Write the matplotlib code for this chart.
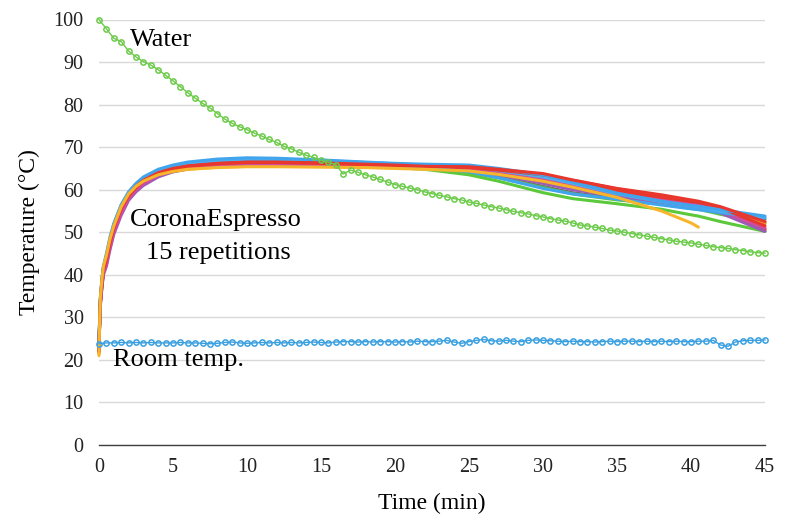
#!/usr/bin/env python3
"""
CoronaEspresso: temperatura de 15 repetições, água e ambiente
"""

import numpy as np
import matplotlib
matplotlib.use("Agg")
import matplotlib.pyplot as plt

nan = np.nan

# tempo (min) das curvas do CoronaEspresso
tempo_espresso = [0, 0.05, 0.1, 0.2, 0.3, 0.5, 0.75, 1, 1.5, 2, 2.5, 3, 4, 5, 6, 8,
                  10, 12, 15, 18, 20, 22,
                  25, 27, 30, 32, 35, 38, 40, 40.5, 42, 45]

# (cor, valores) na ordem em que são desenhadas
rep_cinza = [22, 30, 34, 38, 41, 43.5, 47.5, 51, 55.5, 58.7, 60.7, 62.2, 64, 65, 65.6, 66,
             66.2, 66.2, 66, 65.7, 65.4, 65,
             64.2, 63, 60.8, 59.3, 58, 56.8, 56, 55.8, 55, 53]
rep_verde1 = [22, 30, 34, 38, 41, 43.5, 47.5, 51, 55.5, 58.5, 60.5, 62, 63.8, 64.8, 65.4, 65.9,
              66.1, 66, 65.8, 65.5, 65.2, 64.8,
              63.5, 62, 59.3, 57.9, 56.7, 55.4, 54.1, 53.8, 52.5, 50.2]
rep_verde2 = [22.5, 30.5, 34.5, 38.5, 41.5, 44, 48, 51.5, 55.8, 58.8, 60.8, 62.3, 64, 65, 65.6, 66.1,
              66.3, 66.2, 66, 65.7, 65.4, 65,
              64, 62.8, 60.5, 59, 57.6, 56.6, 55.6, 55.4, 54.2, 52.2]
rep_roxo = [22, 29, 33, 37, 40, 42, 46, 49.5, 54, 57.5, 59.5, 61, 63, 64.2, 64.9, 65.5,
            65.8, 65.8, 65.7, 65.5, 65.3, 65,
            64.5, 63.5, 61.5, 60, 58.5, 57, 56, 55.8, 54.5, 50.2]
rep_magenta = [22.5, 29.5, 33.5, 37.5, 40.5, 42.5, 46.5, 50, 54.5, 58, 60, 61.5, 63.4, 64.5, 65.2, 65.8,
               66, 66, 65.9, 65.7, 65.5, 65.2,
               64.9, 64, 62.4, 61, 59, 57.5, 56.5, 56.3, 55, 51]
rep_azul2 = [22.5, 30.5, 34.5, 38.5, 41.5, 44, 48, 51.5, 56, 59, 61, 62.5, 64.3, 65.3, 66, 66.7,
             67, 67, 66.6, 66.1, 65.8, 65.3,
             64.2, 62.8, 60.3, 59, 57.8, 56.4, 55.5, 55.3, 54.6, 53.3]
rep_amarelo1 = [21, 30, 35, 39, 42, 44.5, 48.5, 51.5, 56, 59, 60.8, 62, 63.5, 64.3, 64.8, 65.2,
                65.4, 65.4, 65.3, 65.2, 65, 64.8,
                64.4, 63.6, 62, 60.6, 58.2, 55, 52.2, 51.2, nan, nan]
rep_amarelo2 = [21.5, 29.5, 34, 38.5, 41.5, 44, 48, 51, 55.5, 58.5, 60.5, 61.8, 63.3, 64.2, 64.8, 65.3,
                65.5, 65.6, 65.5, 65.3, 65.1, 64.9,
                64.6, 63.9, 62.4, 61, 59, 57.4, 56.5, 56.3, 55, 52.4]
rep_laranja = [21.5, 30, 34.5, 38.5, 41.5, 44, 48, 51.2, 55.6, 58.6, 60.6, 62, 63.6, 64.5, 65.1, 65.6,
               65.8, 65.8, 65.7, 65.5, 65.3, 65,
               64.9, 64.1, 62.7, 61.3, 59.3, 58, 57, 56.8, 55.5, 52]
rep_azulclaro = [23, 31, 35, 39, 42, 44.5, 48.5, 52, 56.3, 59.3, 61.3, 62.8, 64.6, 65.6, 66.3, 66.9,
                 67.2, 67.2, 66.9, 66.4, 66.1, 65.8,
                 65.4, 64.5, 63, 61.5, 59, 57.2, 56.2, 56, 55, 53.5]
rep_azul1 = [23, 31, 35, 39, 42, 45, 49, 52, 56.5, 59.5, 61.5, 63, 64.8, 65.8, 66.5, 67.2,
             67.5, 67.4, 67, 66.5, 66.2, 66,
             65.8, 65, 63.5, 61.8, 59.2, 57.3, 56.3, 56.1, 55.3, 53.8]
rep_vinho = [22, 29.5, 33.5, 37.5, 40.5, 43, 47, 50.5, 55, 58.2, 60.3, 61.8, 63.6, 64.7, 65.4, 66,
             66.2, 66.3, 66.1, 65.8, 65.6, 65.3,
             65.2, 64.5, 63.2, 61.8, 60, 58.4, 57, 56.7, 55.2, 50.5]
rep_vermelho1 = [22, 30, 34, 38, 41, 43.5, 47.5, 51, 55.5, 58.5, 60.5, 62, 63.8, 64.8, 65.5, 66.1,
                 66.4, 66.4, 66.2, 65.9, 65.7, 65.5,
                 65.2, 64.6, 63.5, 62.2, 60.2, 58.6, 57.4, 57.1, 55.7, 51.5]
rep_vermelho2 = [22.5, 30, 33.5, 37.5, 40.5, 43, 47, 50.5, 55, 58.3, 60.3, 61.8, 63.6, 64.6, 65.3, 65.9,
                 66.2, 66.2, 66, 65.8, 65.6, 65.3,
                 65, 64.3, 63, 61.6, 59.6, 58.1, 56.7, 56.4, 55.1, 50.8]
rep_vermelho3 = [22, 30.5, 34.5, 38.5, 41.5, 44, 48, 51.3, 55.8, 58.8, 60.8, 62.2, 64, 65, 65.6, 66.2,
                 66.5, 66.5, 66.3, 66, 65.8, 65.5,
                 65.4, 64.8, 63.8, 62.3, 60.3, 58.8, 57.6, 57.3, 56, 52.5]

repeticoes = [
    ("#707070", rep_cinza),
    ("#5CC83B", rep_verde1),
    ("#5CC83B", rep_verde2),
    ("#F08C2A", rep_laranja),
    ("#F7B52C", rep_amarelo2),
    ("#C8302A", rep_vinho),
    ("#E8372C", rep_vermelho2),
    ("#9D5BB8", rep_roxo),
    ("#D14C9E", rep_magenta),
    ("#41A5EE", rep_azul2),
    ("#4FB0F0", rep_azulclaro),
    ("#E8372C", rep_vermelho1),
    ("#41A5EE", rep_azul1),
    ("#E8372C", rep_vermelho3),
    ("#F7B52C", rep_amarelo1),
]

# água e ambiente, a cada 0.5 min
tempo_meio = np.arange(0, 45.01, 0.5)

agua = [100, 97.8, 95.6, 94.8, 92.6, 91.2, 90.1, 89.3, 88.2, 86.9,
        85.6, 84.2, 82.8, 81.5, 80.3, 79.2, 77.9, 76.6, 75.6, 74.8,
        74.1, 73.3, 72.6, 71.8, 71.1, 70.2, 69.6, 68.8, 68.1, 67.6,
        66.9, 66.4, 65.9, 63.7, 64.6, 64.1, 63.5, 63.0, 62.4, 61.8,
        61.2, 60.8, 60.4, 60.0, 59.5, 59.1, 58.7, 58.3, 57.9, 57.6,
        57.1, 56.8, 56.4, 56.0, 55.7, 55.3, 54.9, 54.6, 54.3, 53.9,
        53.6, 53.2, 52.9, 52.6, 52.2, 51.7, 51.5, 51.2, 50.9, 50.5,
        50.3, 50.0, 49.7, 49.4, 49.1, 48.8, 48.5, 48.2, 47.9, 47.7,
        47.5, 47.2, 46.9, 46.6, 46.4, 46.2, 45.9, 45.7, 45.4, 45.2,
        45.1]

ambiente = [23.8, 24.0, 24.0, 24.1, 24.0, 24.1, 24.0, 24.1, 24.0, 24.0,
            24.0, 24.1, 24.0, 24.0, 23.9, 23.8, 23.9, 24.1, 24.2, 24.0,
            23.9, 24.0, 24.1, 24.0, 24.1, 24.0, 24.1, 24.0, 24.1, 24.2,
            24.1, 24.0, 24.2, 24.3, 24.3, 24.2, 24.3, 24.2, 24.3, 24.3,
            24.2, 24.3, 24.2, 24.4, 24.3, 24.3, 24.4, 24.6, 24.2, 23.9,
            24.3, 24.6, 24.8, 24.5, 24.4, 24.6, 24.4, 24.3, 24.6, 24.7,
            24.6, 24.5, 24.4, 24.3, 24.4, 24.3, 24.3, 24.2, 24.3, 24.4,
            24.3, 24.4, 24.4, 24.3, 24.4, 24.3, 24.4, 24.3, 24.4, 24.3,
            24.3, 24.4, 24.4, 24.6, 23.5, 23.2, 24.2, 24.5, 24.6, 24.6,
            24.7]

xticks = [0, 5, 10, 15, 20, 25, 30, 35, 40, 45]
yticks = [0, 10, 20, 30, 40, 50, 60, 70, 80, 90, 100]


def gerar_grafico():
    plt.rcParams["font.family"] = ["Liberation Serif", "DejaVu Serif"]

    fig = plt.figure(figsize=(7.85, 5.2), dpi=100)
    ax = fig.add_axes([0.1261, 0.1442, 0.8484, 0.8183])

    for cor, valores in repeticoes:
        ax.plot(tempo_espresso, valores, color=cor, linewidth=2.2,
                solid_capstyle="round", zorder=3, clip_on=False)

    ax.plot(tempo_meio, agua, color="#6CCB4A", linewidth=1.0,
            marker="o", markersize=3.8, markerfacecolor="none",
            markeredgewidth=1.1, zorder=4, clip_on=False)
    ax.plot(tempo_meio, ambiente, color="#3BA0E0", linewidth=1.0,
            marker="o", markersize=3.8, markerfacecolor="none",
            markeredgewidth=1.1, zorder=4, clip_on=False)

    ax.set_xlim(0, 45)
    ax.set_ylim(0, 100)
    ax.set_xticks(xticks)
    ax.set_yticks(yticks)
    ax.tick_params(axis="both", length=0, labelsize=14.5, colors="#222222")
    ax.tick_params(axis="x", pad=9)
    ax.tick_params(axis="y", pad=11)

    ax.grid(axis="y", color="#D9D9D9", linewidth=1.0, zorder=0)
    ax.set_axisbelow(True)
    for lado in ["top", "right", "left"]:
        ax.spines[lado].set_visible(False)
    ax.spines["bottom"].set_color("#404040")
    ax.spines["bottom"].set_linewidth(1.0)

    ax.set_xlabel("Time (min)", fontsize=17, labelpad=12)
    ax.set_ylabel("Temperature (°C)", fontsize=17, labelpad=10)

    ax.text(2.1, 95.2, "Water", fontsize=19, va="center", ha="left", zorder=6)
    ax.text(2.1, 52.9, "CoronaEspresso", fontsize=19, va="center", ha="left", zorder=6)
    ax.text(3.2, 45.1, "15 repetitions", fontsize=19, va="center", ha="left", zorder=6)
    ax.text(0.97, 20.0, "Room temp.", fontsize=19, va="center", ha="left", zorder=6)

    fig.savefig("out.png", dpi=100)


if __name__ == "__main__":
    gerar_grafico()
